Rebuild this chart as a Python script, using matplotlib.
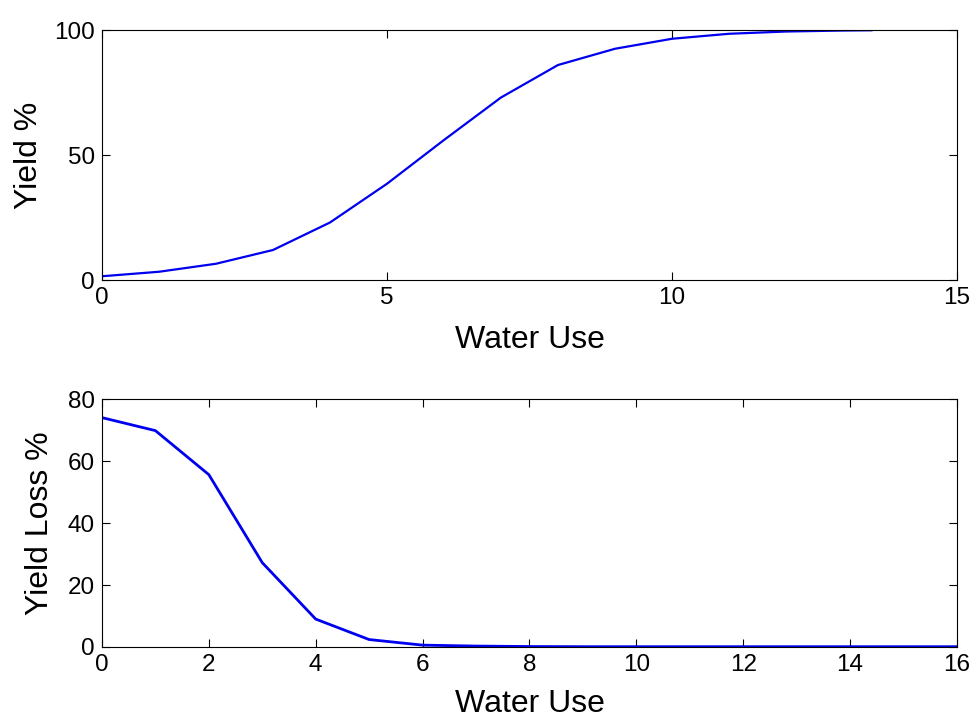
import matplotlib
matplotlib.use('Agg')
import matplotlib.pyplot as plt

plt.rcParams['font.family'] = ['Liberation Sans', 'DejaVu Sans']

# top panel: yield vs water use
water_top = [0, 1, 2, 3, 4, 5, 6, 7, 8, 9, 10, 11, 12, 13, 13.5]
yield_pct = [1.5, 3.3, 6.5, 12, 23, 38.5, 56, 73, 86, 92.5, 96.5, 98.5, 99.4, 99.8, 99.9]

# bottom panel: yield loss vs water use
water_bot = [0, 1, 2, 3, 4, 5, 6, 7, 8, 9, 10, 11, 12, 13, 14, 15, 16]
yield_loss = [74, 69.8, 55.6, 27.2, 9, 2.4, 0.6, 0.3, 0.15, 0.1, 0.1, 0.1, 0.1, 0.1, 0.1, 0.1, 0.1]

fig = plt.figure(figsize=(9.73, 7.2), dpi=100)
ax1 = fig.add_axes([0.1048, 0.6111, 0.8787, 0.3472])
ax2 = fig.add_axes([0.1048, 0.1014, 0.8787, 0.3444])

ax1.plot(water_top, yield_pct, color='#0000ee', linewidth=1.6)
ax1.set_xlim(0, 15)
ax1.set_ylim(0, 100)
ax1.set_xticks([0, 5, 10, 15])
ax1.set_yticks([0, 50, 100])
ax1.set_xlabel('Water Use', fontsize=23)
ax1.set_ylabel('Yield %', fontsize=23)
ax1.xaxis.set_label_coords(0.5, -0.18)
ax1.yaxis.set_label_coords(-0.068, 0.5)

ax2.plot(water_bot, yield_loss, color='#0000ee', linewidth=2.0)
ax2.set_xlim(0, 16)
ax2.set_ylim(0, 80)
ax2.set_xticks(range(0, 17, 2))
ax2.set_yticks(range(0, 81, 20))
ax2.set_xlabel('Water Use', fontsize=23)
ax2.set_ylabel('Yield Loss %', fontsize=23)
ax2.xaxis.set_label_coords(0.5, -0.17)
ax2.yaxis.set_label_coords(-0.055, 0.5)

for ax in (ax1, ax2):
    ax.tick_params(direction='in', top=True, right=True, length=6, width=0.8,
                   labelsize=17.5, pad=5)
    for s in ax.spines.values():
        s.set_linewidth(0.8)

fig.savefig('out.png', dpi=100)
